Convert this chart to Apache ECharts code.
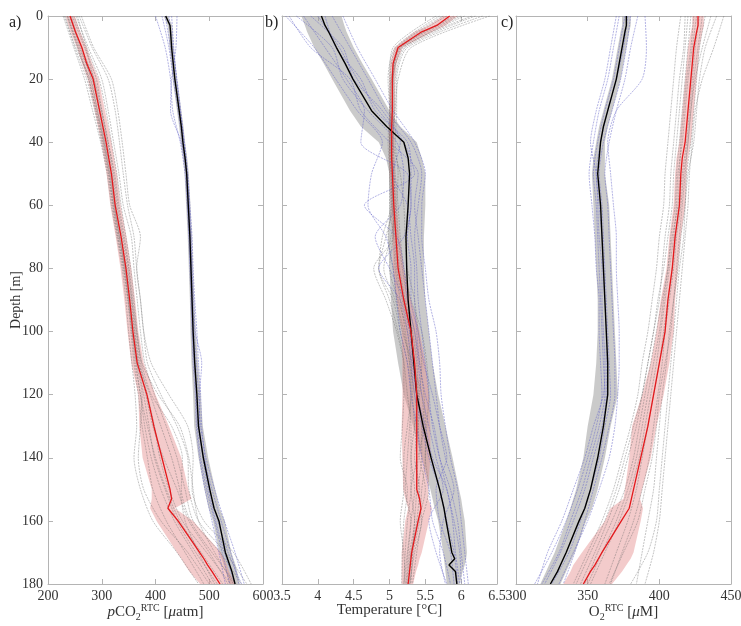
<!DOCTYPE html>
<html><head><meta charset="utf-8">
<script src="https://cdn.jsdelivr.net/npm/echarts@6/dist/echarts.min.js"></script>
<style>html,body{margin:0;padding:0;background:#fff}#c{width:741px;height:626px}</style>
</head><body><div id="c"></div>
<script>
// depth grids
const depthMean = [0,3,5,10,15,20,30,35,40,45,50,60,70,80,90,100,110,120,130,140,150,153,156,160,170,172,174,176,180];
const depthProf = [0,10,20,30,40,50,60,70,80,90,100,110,120,130,140,150,160,170,180];

// ---- panel a: pCO2 ----
const aRedMean = [241,247,251,263,272,284,296,302,308,313,318,325,336,345,352,358,366,384,397,412,427,430,423,442,482,490,497,505,520];
const aRedLo   = [233,238,242,254,263,274,287,293,299,304,309,316,326,335,342,348,355,368,370,376,393,393,390,402,440,448,455,463,483];
const aRedHi   = [250,256,260,272,282,294,306,312,318,323,328,335,346,355,362,368,378,400,425,448,461,467,436,470,522,528,533,537,548];
const aBlkMean = [419,427,428,430,433,436,444,448,451,455,458,461,464,466,468,470,473,477,480,489,501,505,509,518,530,534,538,542,548];
const aBlkLo   = [415,423,424,426,429,432,440,444,447,451,454,457,460,462,464,465,467,470,472,480,491,495,499,507,519,523,527,531,537];
const aBlkHi   = [423,431,432,434,437,440,448,452,455,459,462,465,468,470,472,475,479,484,488,498,511,515,519,529,541,545,549,552,557];
const aGrey = [
 [228,248,268,283,298,310,318,328,338,345,350,356,362,365,360,372,395,440,480],
 [235,255,275,290,303,314,322,333,342,350,356,362,372,380,392,410,435,470,505],
 [245,268,290,300,312,322,330,340,350,356,362,370,382,395,415,440,462,500,535],
 [252,275,300,312,322,332,340,355,360,366,372,380,398,420,440,455,470,520,560],
 [258,282,312,325,333,340,348,360,365,372,378,392,425,460,470,468,490,545,578],
 [240,260,280,292,305,316,324,332,344,352,360,368,390,410,430,445,455,480,510],
 [232,250,272,287,300,312,320,330,340,348,354,360,368,375,385,395,420,455,490],
 [262,285,318,330,338,345,352,372,365,372,378,385,410,440,460,462,480,530,570],
 [248,270,285,298,310,320,328,338,348,356,364,372,385,398,408,425,450,495,540],
 [237,258,282,295,306,318,326,335,346,354,361,368,378,388,398,418,440,475,515],
 [230,252,278,292,304,315,323,333,343,350,357,365,375,372,368,378,410,460,500],
 [255,272,295,308,318,328,336,345,354,360,366,375,405,445,462,470,480,510,545],
 [243,262,286,300,312,324,332,342,351,358,365,374,392,430,450,448,465,505,550],
 [236,256,276,289,302,313,321,330,341,349,356,364,372,385,400,420,445,485,525]
];
const aBlue = [
 [400,418,428,432,446,455,459,462,464,466,468,470,474,476,482,492,505,518,530],
 [412,425,433,442,450,457,460,463,465,467,469,472,476,480,490,505,522,540,555],
 [425,432,440,447,453,459,462,465,467,469,472,476,480,484,494,510,528,548,565],
 [440,438,430,428,448,458,463,466,468,471,474,486,482,482,488,498,512,528,548],
 [418,428,436,445,452,458,461,464,466,468,470,473,476,478,484,495,510,524,538],
 [430,434,439,446,454,460,464,468,470,473,477,480,484,486,492,500,516,535,560]
];

// ---- panel b: Temperature ----
const bRedMean = [5.84,5.66,5.45,5.12,5.05,5.04,5.04,5.03,5.03,5.03,5.04,5.06,5.09,5.12,5.20,5.30,5.35,5.38,5.38,5.38,5.38,5.42,5.44,5.40,5.31,5.30,5.29,5.28,5.26];
const bRedLo   = [5.75,5.55,5.35,5.07,5.01,5.00,5.00,4.99,4.99,4.99,5.00,5.02,5.04,5.05,5.10,5.17,5.18,5.18,5.17,5.18,5.19,5.22,5.26,5.22,5.17,5.17,5.17,5.17,5.17];
const bRedHi   = [5.95,5.78,5.60,5.18,5.10,5.08,5.08,5.07,5.07,5.07,5.08,5.10,5.14,5.20,5.30,5.42,5.50,5.55,5.57,5.57,5.54,5.54,5.59,5.55,5.45,5.42,5.40,5.37,5.33];
const bBlkMean = [4.05,4.10,4.15,4.26,4.38,4.49,4.75,4.96,5.20,5.26,5.28,5.26,5.23,5.24,5.26,5.30,5.34,5.38,5.47,5.58,5.70,5.73,5.76,5.79,5.87,5.91,5.83,5.92,5.94];
const bBlkLo   = [3.77,3.82,3.85,3.95,4.08,4.20,4.45,4.60,4.85,4.95,5.00,5.00,4.98,5.00,5.02,5.05,5.12,5.20,5.33,5.45,5.57,5.60,5.63,5.68,5.75,5.76,5.77,5.78,5.80];
const bBlkHi   = [4.33,4.37,4.40,4.50,4.62,4.75,5.00,5.15,5.38,5.45,5.50,5.50,5.48,5.48,5.50,5.55,5.60,5.68,5.78,5.88,5.97,6.00,6.02,6.05,6.08,6.07,6.05,6.02,5.98];
const bGrey = [
 [6.05,5.20,5.05,5.05,5.02,5.05,5.05,4.95,4.85,5.05,5.15,5.25,5.30,5.25,5.20,5.20,5.15,5.20,5.22],
 [5.90,5.15,5.02,5.00,5.00,5.02,5.05,5.08,5.10,5.18,5.28,5.35,5.40,5.45,5.45,5.40,5.45,5.35,5.28],
 [6.30,5.25,5.10,5.10,5.08,5.12,5.10,5.12,5.18,5.25,5.35,5.42,5.48,5.50,5.50,5.45,5.42,5.33,5.30],
 [5.70,5.08,4.98,5.00,4.98,5.00,5.00,5.05,4.78,4.95,5.10,5.20,5.25,5.30,5.30,5.35,5.30,5.25,5.20],
 [6.40,5.30,5.12,5.08,5.05,5.08,5.12,5.15,5.20,5.30,5.45,5.52,5.55,5.52,5.50,5.55,5.45,5.38,5.32],
 [5.80,5.12,5.03,5.02,5.02,5.04,5.06,5.05,5.00,5.12,5.25,5.30,5.32,5.35,5.38,5.30,5.35,5.28,5.24],
 [6.15,5.18,5.06,5.06,5.05,5.15,5.20,5.22,5.25,5.35,5.40,5.45,5.42,5.40,5.35,5.42,5.38,5.30,5.27],
 [5.65,5.05,5.00,5.02,5.00,5.00,5.02,4.90,4.85,5.00,5.12,5.20,5.20,5.18,5.15,5.25,5.20,5.18,5.17],
 [6.20,5.22,5.08,5.07,5.04,5.06,5.08,5.10,5.14,5.22,5.32,5.38,5.40,5.35,5.30,5.30,5.25,5.22,5.20],
 [5.75,5.10,5.01,5.01,5.00,5.02,5.03,4.98,5.05,5.10,5.20,5.28,5.35,5.40,5.42,5.50,5.40,5.30,5.25],
 [6.00,5.16,5.04,5.03,5.01,5.03,5.04,5.06,5.08,5.15,5.22,5.28,5.30,5.28,5.25,5.22,5.30,5.26,5.23],
 [5.95,5.14,5.05,5.04,5.03,5.06,5.08,5.02,4.92,5.08,5.18,5.32,5.45,5.48,5.40,5.38,5.35,5.32,5.29]
];
const bBlue = [
 [3.55,3.95,4.25,4.55,4.90,4.75,4.70,4.95,5.05,5.10,5.15,5.25,5.30,5.38,5.45,5.55,5.60,5.75,5.85],
 [3.80,4.10,4.40,4.65,4.60,5.25,5.30,5.20,4.85,5.15,5.25,5.30,5.35,5.45,5.55,5.70,5.80,5.90,5.95],
 [4.20,4.45,4.70,4.95,5.30,5.45,5.40,5.35,5.38,5.40,5.45,5.50,5.55,5.60,5.70,5.85,5.95,6.00,6.05],
 [4.00,4.30,4.55,4.85,5.20,5.35,4.65,5.10,5.20,5.25,5.35,5.40,5.45,5.55,5.65,5.75,5.55,5.65,5.80],
 [4.35,4.55,4.80,5.05,5.35,5.50,5.45,5.45,5.50,5.55,5.65,5.70,5.72,5.78,5.85,5.95,6.00,6.05,6.10],
 [3.70,4.20,4.35,4.70,5.10,5.20,5.15,4.80,5.00,5.20,5.28,5.32,5.38,5.50,5.60,5.80,5.88,5.92,5.98],
 [4.10,4.25,4.60,4.80,5.25,5.30,5.30,5.25,5.30,5.30,5.40,5.48,5.60,5.70,5.80,5.65,5.70,5.85,5.90],
 [3.60,3.90,4.45,4.60,5.00,5.40,5.35,5.40,5.45,5.50,5.55,5.60,5.65,5.70,5.78,5.90,5.75,5.70,5.78],
 [3.90,4.35,4.50,4.90,5.15,5.05,5.25,5.30,5.35,5.35,5.38,5.42,5.50,5.62,5.70,5.80,5.90,5.98,6.00]
];

// ---- panel c: O2 ----
const cRedMean = [427,427,426,424,423,422,420,419,418,416,415,414,411,409,406,404,400,396,392,387,382,380.5,379,373.5,360,357.5,355,352,347];
const cRedLo   = [423,423,422,420,419,418,416,415,414,412,411,410,407,405,401,398,394,388,381,379,376,375,366,362,346,343,340,338,333];
const cRedHi   = [431,431,430,428,427,426,424,423,422,420,419,418,415,413,411,410,407,403,398,394,388,386.5,388.6,387,382,380,377,374,367];
const cBlkMean = [377,377,376,374,372,370,364,361,359,358,357,359,360,361,362,363,364,364,361,357,352,350,348,344,335,333,331,329,324];
const cBlkLo   = [374,374,373,371,369,367,361,358,356,354,353,354,355,356,357,357,356,354,350,347,342,340,338,335,327,325,323,321,317];
const cBlkHi   = [380,380,379,377,375,373,367,364,362,362,362,365,366,367,368,369,370,371,366,362,357,355,353,349,341,339,337,335,331];
const cGrey = [
 [415,412,410,408,406,404,403,400,398,395,392,388,385,380,374,368,360,350,340],
 [422,420,418,416,414,412,411,408,406,403,400,396,392,388,384,378,370,360,350],
 [432,428,426,424,422,419,418,415,413,410,408,404,400,398,395,390,385,375,365],
 [440,432,428,426,424,420,418,417,414,412,410,408,406,404,402,400,398,392,380],
 [426,423,420,418,416,413,412,410,407,404,401,398,394,390,386,380,372,362,352],
 [418,417,414,412,410,408,407,404,402,400,396,392,388,384,378,372,364,355,345],
 [436,430,425,422,420,418,416,414,412,410,407,405,402,400,398,396,392,388,384],
 [428,425,423,421,419,416,414,411,409,406,403,400,396,392,388,384,378,370,362],
 [424,422,419,417,415,414,413,409,406,402,398,394,390,386,382,376,367,357,348],
 [430,427,424,422,420,417,415,412,410,407,404,402,399,396,393,388,382,374,366],
 [420,418,416,414,412,410,409,406,403,399,396,392,388,382,376,370,362,352,342],
 [445,438,430,425,423,421,420,418,416,414,412,410,408,406,404,402,400,396,390]
];
const cBlue = [
 [372,368,364,358,354,351,353,355,356,358,358,359,360,356,350,343,335,325,313],
 [380,377,373,367,361,358,360,361,362,363,364,365,366,362,358,352,345,337,325],
 [390,391,388,370,364,366,368,370,370,371,372,372,371,369,365,358,350,340,330],
 [376,372,368,362,357,354,356,357,358,359,360,361,362,358,352,346,338,330,318],
 [385,380,376,370,365,362,364,365,366,367,368,369,369,365,360,354,348,341,333],
 [370,366,362,356,352,356,357,358,360,360,361,362,361,354,348,340,332,322,315],
 [378,375,370,364,359,356,358,360,361,362,363,363,363,360,354,348,340,331,320]
];

const xRanges = [[200,600,100],[3.5,6.5,0.5],[300,450,50]];
const depthTicks = [0,180,20];

const SERIF = 'Liberation Serif';
const gridLeft = [48,282,516];
const grids = gridLeft.map(l => ({left:l, top:16, width:215, height:568, containLabel:false, outerBoundsMode:'none'}));

const axisLineStyle = {lineStyle:{color:'#b4b4b4', width:1}};
const tickStyle = {show:true, inside:true, length:5, lineStyle:{color:'#b4b4b4'}};
const xLabelStyle = {fontFamily:SERIF, fontSize:14, color:'#333', margin:5};
const yLabelStyle = {fontFamily:SERIF, fontSize:14, color:'#333', margin:5};

const names = [
  '{i|p}CO{sub|2}{sup|RTC} [{i|μ}atm]',
  'Temperature [°C]',
  'O{sub|2}{sup|RTC} [{i|μ}M]'
];
const richName = {
  i:{fontFamily:SERIF, fontStyle:'italic', fontSize:15, color:'#333'},
  sub:{fontFamily:SERIF, fontSize:10, color:'#333', padding:[9,0,0,0]},
  sup:{fontFamily:SERIF, fontSize:10, color:'#333', padding:[0,0,8,0]}
};

const xAxis = [], yAxis = [];
for (let i=0;i<3;i++){
  const [mn,mx,iv] = xRanges[i];
  xAxis.push({type:'value', gridIndex:i, position:'bottom', min:mn, max:mx, interval:iv,
    axisLine:{show:true, onZero:false, ...axisLineStyle}, axisTick:tickStyle, splitLine:{show:false},
    axisLabel:xLabelStyle,
    name:names[i], nameLocation:'middle', nameGap:19, nameMoveOverlap:false,
    nameTextStyle:{fontFamily:SERIF, fontSize:15, color:'#333', rich:richName}});
  yAxis.push({type:'value', gridIndex:i, position:'left', inverse:true, min:depthTicks[0], max:depthTicks[1], interval:depthTicks[2],
    axisLine:{show:true, onZero:false, ...axisLineStyle}, axisTick:tickStyle, splitLine:{show:false},
    axisLabel:{...yLabelStyle, show:i===0},
    name: i===0 ? 'Depth [m]' : '', nameLocation:'middle', nameGap:25, nameMoveOverlap:false,
    nameTextStyle:{fontFamily:SERIF, fontSize:14, color:'#333'}});
}
for (let i=0;i<3;i++){
  const [mn,mx,iv] = xRanges[i];
  xAxis.push({type:'value', gridIndex:i, position:'top', min:mn, max:mx, interval:iv,
    axisLine:{show:true, onZero:false, ...axisLineStyle}, axisTick:tickStyle, splitLine:{show:false}, axisLabel:{show:false}});
  yAxis.push({type:'value', gridIndex:i, position:'right', inverse:true, min:depthTicks[0], max:depthTicks[1], interval:depthTicks[2],
    axisLine:{show:true, onZero:false, ...axisLineStyle}, axisTick:tickStyle, splitLine:{show:false}, axisLabel:{show:false}});
}

const series = [];
function band(i, lo, hi, color){
  series.push({type:'custom', xAxisIndex:i, yAxisIndex:i, silent:true, z:1,
    data: lo.map((v,k)=>[v, hi[k], depthMean[k]]),
    encode:{x:[0,1], y:2},
    renderItem:(params, api)=>{
      if (params.dataIndex !== 0) return {type:'group', children:[]};
      const pts = [];
      for (let k=0;k<lo.length;k++) pts.push(api.coord([lo[k], depthMean[k]]));
      for (let k=hi.length-1;k>=0;k--) pts.push(api.coord([hi[k], depthMean[k]]));
      return {type:'polygon', shape:{points:pts}, style:{fill:color}};
    }});
}
function line(i, xs, depths, color, width, type, z){
  series.push({type:'line', xAxisIndex:i, yAxisIndex:i, silent:true, z:z,
    data: xs.map((v,k)=>[v, depths[k]]), showSymbol:false, symbol:'none',
    smooth: type==='solid' ? false : 0.25,
    lineStyle:{color:color, width:width, type:type}, animation:false});
}

const panels = [
  {rm:aRedMean, rl:aRedLo, rh:aRedHi, bm:aBlkMean, bl:aBlkLo, bh:aBlkHi, g:aGrey, b:aBlue},
  {rm:bRedMean, rl:bRedLo, rh:bRedHi, bm:bBlkMean, bl:bBlkLo, bh:bBlkHi, g:bGrey, b:bBlue},
  {rm:cRedMean, rl:cRedLo, rh:cRedHi, bm:cBlkMean, bl:cBlkLo, bh:cBlkHi, g:cGrey, b:cBlue}
];
panels.forEach((p,i)=>{
  band(i, p.bl, p.bh, 'rgba(150,150,150,0.5)');
  band(i, p.rl, p.rh, 'rgba(228,140,140,0.45)');
  p.g.forEach(xs => line(i, xs, depthProf, 'rgba(110,110,110,0.45)', 0.9, [2,1], 2));
  p.b.forEach(xs => line(i, xs, depthProf, 'rgba(100,100,200,0.55)', 0.9, [2,1], 3));
  line(i, p.bm, depthMean, '#000000', 1.4, 'solid', 5);
  line(i, p.rm, depthMean, '#e3191c', 1.3, 'solid', 6);
});

const chart = echarts.init(document.getElementById('c'), null, {renderer:'canvas'});
chart.setOption({
  animation:false,
  backgroundColor:'#ffffff',
  grid:grids, xAxis:xAxis, yAxis:yAxis, series:series,
  graphic:[
    {type:'text', left:9, top:15, style:{text:'a)', font:'16px "Liberation Serif"', fill:'#222'}},
    {type:'text', left:265, top:15, style:{text:'b)', font:'16px "Liberation Serif"', fill:'#222'}},
    {type:'text', left:501, top:15, style:{text:'c)', font:'16px "Liberation Serif"', fill:'#222'}}
  ]
});
</script></body></html>
